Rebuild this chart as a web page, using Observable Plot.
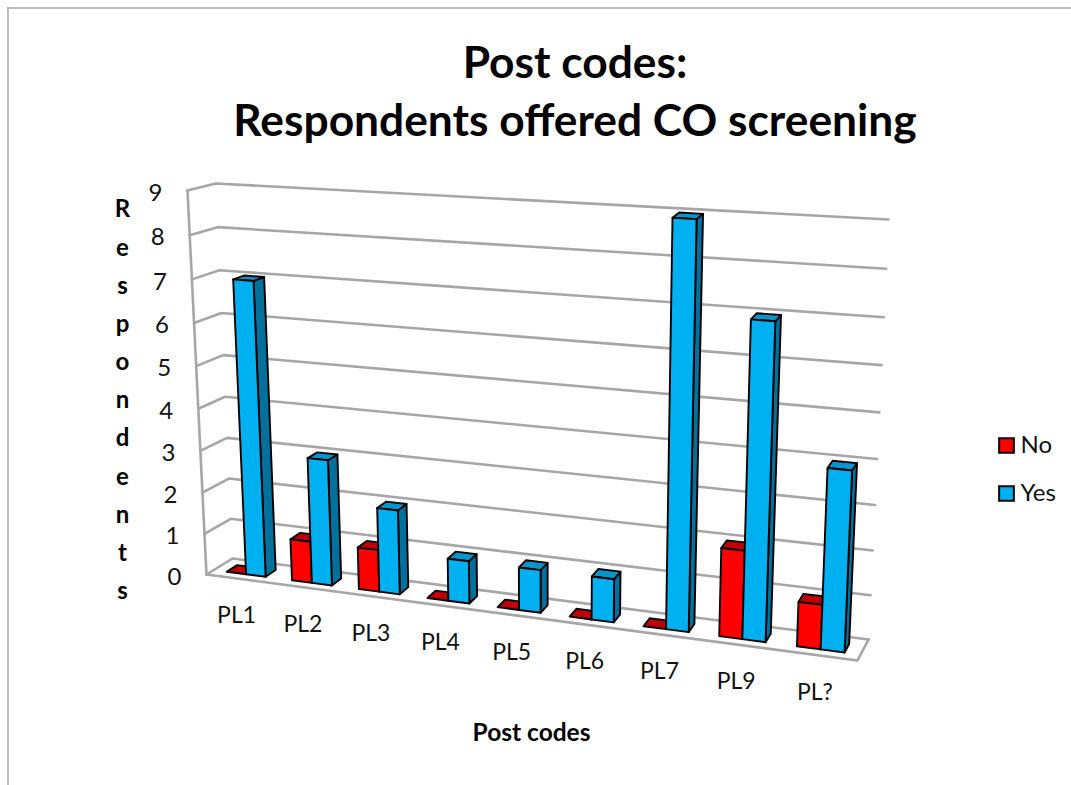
<!DOCTYPE html>
<html>
<head>
<meta charset="utf-8">
<style>html,body{margin:0;padding:0;background:#fff;overflow:hidden}</style>
<script src="https://cdn.jsdelivr.net/npm/d3@7"></script>
<script src="https://cdn.jsdelivr.net/npm/@observablehq/plot@0.6"></script>
</head>
<body>
<div id="chart"></div>
<script>
const categories = ["PL1","PL2","PL3","PL4","PL5","PL6","PL7","PL9","PL?"];
const noValues  = [0,1,1,0,0,0,0,2,1];
const yesValues = [7,3,2,1,1,1,9,7,4];
const valueTicks = [0,1,2,3,4,5,6,7,8,9];
const seriesNames = ["No","Yes"];
const titleLines = ["Post codes:","Respondents offered CO screening"];
const xTitle = "Post codes";
const yTitle = "Respondents";

const W = 1071, H = 785, N = categories.length, VMAX = 9;
const gridColor = "#a6a6a6";
const palette = {
  No:  {front:"#ff0000", top:"#c00000", side:"#a00000"},
  Yes: {front:"#00b0f0", top:"#0097cf", side:"#00719c"}
};

// perspective of the 3-D box
function homography(p00,p10,p11,p01){
  const [x0,y0]=p00,[x1,y1]=p10,[x2,y2]=p11,[x3,y3]=p01;
  const sx=x0-x1+x2-x3, sy=y0-y1+y2-y3, dx1=x1-x2, dx2=x3-x2, dy1=y1-y2, dy2=y3-y2;
  const det=dx1*dy2-dx2*dy1;
  const g=(sx*dy2-dx2*sy)/det, h=(dx1*sy-sx*dy1)/det;
  const a=x1-x0+g*x1,b=x3-x0+h*x3,d=y1-y0+g*y1,e=y3-y0+h*y3;
  return (s,t)=>{const q=g*s+h*t+1;return [(a*s+b*t+x0)/q,(d*s+e*t+y0)/q];};
}
const frontPlane = homography([206,574],[857,660],[875,234],[187,190]);
const backPlane  = homography([232,558],[868,639],[888,219],[215,183]);
function project(u,v,w){
  const f=frontPlane(u/N,v/VMAX), b=backPlane(u/N,v/VMAX);
  return [f[0]+(b[0]-f[0])*w, f[1]+(b[1]-f[1])*w];
}

// walls
const wall=[];
function addLine(id,pts){pts.forEach(([u,v,w])=>{const [x,y]=project(u,v,w);wall.push({id,x,y});});}
addLine("edge",[[0,0,0],[0,VMAX,0]]);
valueTicks.forEach(v=>addLine("g"+v,[[0,v,0],[0,v,1],[N,v,1]]));
addLine("floor",[[0,0,0],[N,0,0],[N,0,1]]);

// bars
const W0=0.28, W1=0.69;
const faces=[];
function addFace(id,color,pts){
  [...pts,pts[0]].forEach(([u,v,w])=>{const [x,y]=project(u,v,w);faces.push({id,color,x,y});});
}
function addBar(key,u0,u1,val,i){
  const c=palette[key], id=key+i;
  addFace(id+"s",c.side,[[u1,0,W0],[u1,0,W1],[u1,val,W1],[u1,val,W0]]);
  addFace(id+"t",c.top,[[u0,val,W0],[u1,val,W0],[u1,val,W1],[u0,val,W1]]);
  if(val>0) addFace(id+"f",c.front,[[u0,0,W0],[u1,0,W0],[u1,val,W0],[u0,val,W0]]);
}
categories.forEach((_,i)=>{
  addBar("No",i+0.2,i+0.5,noValues[i],i);
  addBar("Yes",i+0.5,i+0.8,yesValues[i],i);
});

const fig = Plot.plot({
  width:W, height:H, margin:0,
  x:{domain:[0,W],range:[0,W],axis:null},
  y:{domain:[0,H],range:[0,H],axis:null},
  color:{type:"identity"},
  style:{fontFamily:"Lato, Carlito, sans-serif",background:"#fff",color:"#000",overflow:"hidden"},
  marks:[
    Plot.ruleY([7.5],{x1:7,x2:W,stroke:"#a8a8a8",strokeWidth:1.5}),
    Plot.ruleX([7.5],{y1:7,y2:H,stroke:"#a8a8a8",strokeWidth:1.5}),
    Plot.line(wall,{x:"x",y:"y",z:"id",stroke:gridColor,strokeWidth:2.6,strokeLinejoin:"round"}),
    Plot.line(faces,{x:"x",y:"y",z:"id",fill:"color",stroke:"#000",strokeWidth:1.9,strokeLinejoin:"round"}),
    Plot.text(titleLines,{x:()=>574.5,y:(d,i)=>63+i*58,text:d=>d,fontSize:44.3,fontWeight:700,fill:"#000"}),
    Plot.text(valueTicks,{x:v=>project(0,v,0)[0],y:v=>project(0,v,0)[1],text:d=>String(d),dx:-32,dy:2.5,fontSize:24,fill:"#111"}),
    Plot.text(categories,{x:(d,i)=>project(i+0.5,0,0)[0],y:(d,i)=>project(i+0.5,0,0)[1],text:d=>d,dx:-2.5,dy:37,fontSize:23,fill:"#111"}),
    Plot.text([xTitle],{x:()=>531,y:()=>733,text:d=>d,fontSize:24.5,fontWeight:700,fill:"#000"}),
    Plot.text([yTitle.split("").join("\n")],{x:()=>122,y:()=>395.5,text:d=>d,fontSize:24,fontWeight:700,lineHeight:1.59,fill:"#000"}),
    Plot.dot(seriesNames,{x:()=>1006,y:(d,i)=>445+i*48,symbol:"square",r:8.3,fill:d=>palette[d].front,stroke:"#000",strokeWidth:2}),
    Plot.text(seriesNames,{x:()=>1020,y:(d,i)=>445+i*48,text:d=>d,textAnchor:"start",fontSize:24,fill:"#111"})
  ]
});
document.getElementById("chart").appendChild(fig);
</script>
</body>
</html>
